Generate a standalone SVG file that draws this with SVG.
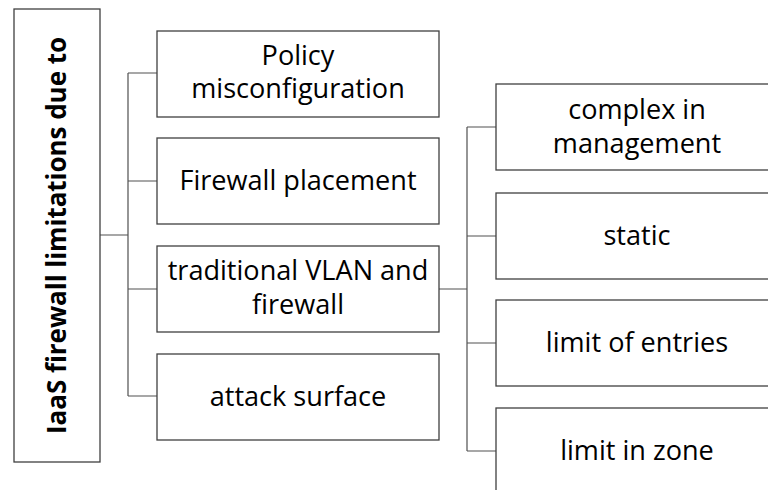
<svg xmlns="http://www.w3.org/2000/svg" width="768" height="490" viewBox="0 0 768 490">
<style>
.box{fill:#fff;stroke:#404040;stroke-width:1.3}
.lbl{font-family:"Open Sans","Liberation Sans",sans-serif;font-size:27.1px;fill:#000;text-anchor:middle}
.title{font-family:"Open Sans","Liberation Sans",sans-serif;font-size:26px;font-weight:bold;fill:#000;text-anchor:middle}
.con{fill:none;stroke:#505050;stroke-width:1.2}
</style>
<rect width="768" height="490" fill="#fff"/>
<g id="connectors">
<path class="con" d="M100,235H128M128,73V396M128,73H157M128,181H157M128,289H157M128,396H157"/>
<path class="con" d="M439,289H467M467,127V451M467,127H496M467,236H496M467,343H496M467,451H496"/>
</g>
<g id="root">
<rect class="box" x="14" y="9" width="86" height="453"/>
<text class="title" transform="translate(66,235.5) rotate(-90)" textLength="397" lengthAdjust="spacingAndGlyphs">IaaS firewall limitations due to</text>
</g>
<g id="n1">
<rect class="box" x="157" y="31" width="282" height="86"/>
<text class="lbl" x="298" y="64.5">Policy</text>
<text class="lbl" x="298" y="98">misconfiguration</text>
</g>
<g id="n2">
<rect class="box" x="157" y="138" width="282" height="86"/>
<text class="lbl" x="298" y="190">Firewall placement</text>
</g>
<g id="n3">
<rect class="box" x="157" y="246" width="282" height="86"/>
<text class="lbl" x="298" y="280">traditional VLAN and</text>
<text class="lbl" x="298" y="314">firewall</text>
</g>
<g id="n4">
<rect class="box" x="157" y="354" width="282" height="86"/>
<text class="lbl" x="298" y="405.5">attack surface</text>
</g>
<g id="m1">
<rect class="box" x="496" y="84" width="282" height="86"/>
<text class="lbl" x="637" y="119">complex in</text>
<text class="lbl" x="637" y="152.5">management</text>
</g>
<g id="m2">
<rect class="box" x="496" y="193" width="282" height="86"/>
<text class="lbl" x="637" y="245">static</text>
</g>
<g id="m3">
<rect class="box" x="496" y="300" width="282" height="86"/>
<text class="lbl" x="637" y="352">limit of entries</text>
</g>
<g id="m4">
<rect class="box" x="496" y="408" width="282" height="86"/>
<text class="lbl" x="637" y="460">limit in zone</text>
</g>
</svg>
